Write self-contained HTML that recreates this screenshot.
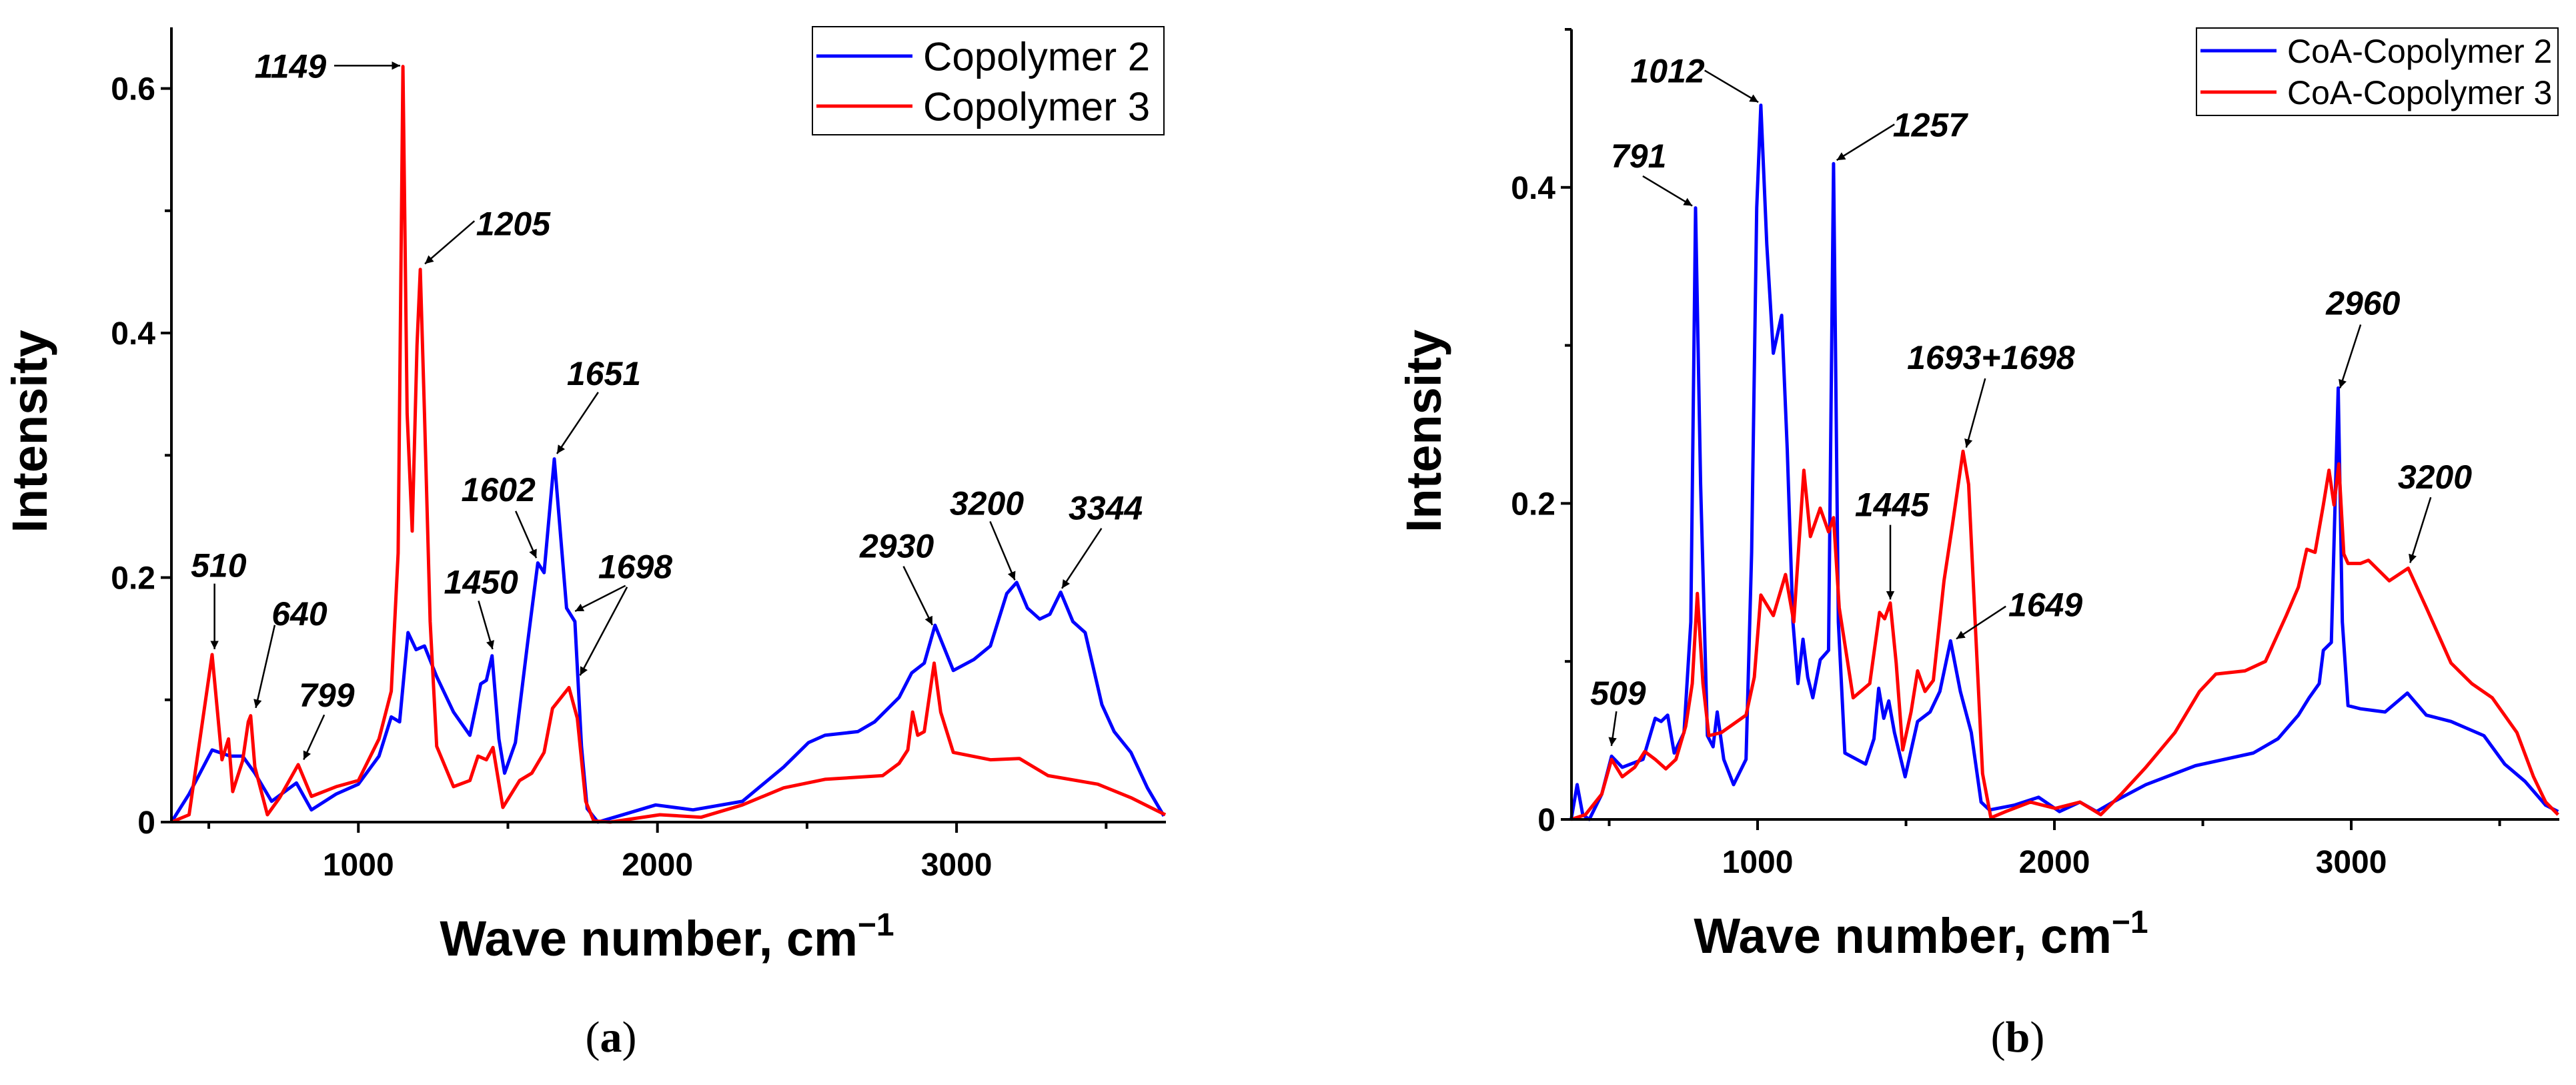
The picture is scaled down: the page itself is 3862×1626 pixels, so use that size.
<!DOCTYPE html>
<html><head><meta charset="utf-8">
<style>
html,body{margin:0;padding:0;background:#fff;}
svg{display:block;font-family:"Liberation Sans",Arial,sans-serif;}
</style></head>
<body>
<svg id="fig" width="3862" height="1626" viewBox="0 0 3862 1626" xmlns="http://www.w3.org/2000/svg">
<defs>
<marker id="ah" viewBox="0 0 10 10" refX="10" refY="5" markerWidth="5" markerHeight="5" orient="auto-start-reverse">
<path d="M0,0 L10,5 L0,10 z" fill="#000"/>
</marker>
</defs>
</svg>
<script>
// ---- Panel (a) data ----
const aCop3X = [375,434,511,544,566,580,613,632,640,654,696,737,799,843,926,1000,1069,1110,1133,1149,1163,1180,1196,1207,1221,1240,1262,1318,1373,1400,1428,1450,1483,1511,1539,1580,1621,1649,1704,1732,1760,1787,1842,2008,2146,2284,2422,2560,2753,2808,2837,2853,2870,2892,2925,2947,2989,3113,3210,3306,3472,3583,3665,3698];
const aCop3Y = [0,0.006,0.137,0.051,0.068,0.025,0.05,0.082,0.087,0.045,0.006,0.02,0.047,0.021,0.029,0.034,0.068,0.107,0.22,0.618,0.334,0.238,0.39,0.452,0.334,0.164,0.062,0.029,0.034,0.054,0.051,0.061,0.012,0.023,0.034,0.04,0.057,0.093,0.11,0.085,0.017,0.001,0,0.006,0.004,0.014,0.028,0.035,0.038,0.048,0.059,0.09,0.071,0.074,0.13,0.09,0.057,0.051,0.052,0.038,0.031,0.02,0.01,0.006];
const aCop2X = [375,434,511,572,613,654,710,793,843,926,1000,1069,1110,1138,1166,1193,1221,1262,1318,1373,1409,1428,1447,1470,1489,1525,1566,1600,1621,1655,1677,1696,1724,1746,1765,1801,1898,1994,2119,2284,2422,2505,2560,2670,2726,2808,2850,2892,2928,2961,2989,3058,3113,3168,3201,3237,3278,3312,3348,3389,3430,3486,3527,3583,3638,3693];
const aCop2Y = [0,0.023,0.059,0.054,0.054,0.04,0.017,0.032,0.01,0.023,0.031,0.054,0.086,0.082,0.155,0.141,0.144,0.119,0.09,0.071,0.113,0.116,0.136,0.068,0.04,0.065,0.147,0.212,0.204,0.297,0.232,0.175,0.164,0.062,0.011,0,0.007,0.014,0.01,0.017,0.045,0.065,0.071,0.074,0.082,0.102,0.122,0.13,0.161,0.141,0.124,0.133,0.144,0.187,0.196,0.175,0.166,0.17,0.188,0.164,0.155,0.096,0.074,0.057,0.028,0.005];
const aYTicks = [0,0.2,0.4,0.6];
const aYTickLabels = ["0","0.2","0.4","0.6"];
const xTicks = [1000,2000,3000];
const xTickLabels = ["1000","2000","3000"];

// ---- Panel (b) data ----
const bCoa2X = [372,392,411,433,475,508,544,614,655,675,697,719,752,775,791,808,831,850,864,886,919,961,980,997,1011,1031,1053,1081,1100,1119,1136,1153,1169,1186,1211,1239,1256,1272,1294,1364,1392,1408,1425,1442,1461,1497,1539,1581,1614,1650,1683,1720,1753,1781,1864,1947,2017,2086,2142,2197,2308,2475,2670,2753,2822,2858,2892,2906,2933,2956,2970,2989,3031,3114,3189,3253,3336,3447,3517,3586,3655,3697];
const bCoa2Y = [0,0.022,0.003,0,0.016,0.04,0.033,0.038,0.064,0.062,0.066,0.042,0.055,0.125,0.387,0.212,0.053,0.046,0.068,0.038,0.022,0.038,0.169,0.387,0.452,0.364,0.295,0.319,0.234,0.125,0.086,0.114,0.09,0.077,0.101,0.107,0.415,0.125,0.042,0.035,0.051,0.083,0.064,0.075,0.055,0.027,0.062,0.068,0.081,0.113,0.081,0.055,0.011,0.006,0.009,0.014,0.005,0.011,0.005,0.011,0.022,0.034,0.042,0.051,0.066,0.077,0.086,0.107,0.112,0.273,0.125,0.072,0.07,0.068,0.08,0.066,0.062,0.053,0.035,0.024,0.009,0.005];
const bCoa3X = [372,420,475,508,544,586,620,655,691,725,758,780,797,816,836,878,961,989,1011,1053,1094,1122,1156,1178,1211,1239,1256,1275,1322,1378,1411,1428,1447,1467,1489,1517,1539,1564,1592,1628,1656,1692,1711,1733,1758,1786,1836,1919,2003,2086,2156,2225,2308,2406,2489,2544,2642,2711,2781,2822,2850,2878,2906,2925,2942,2958,2975,2989,3031,3058,3128,3192,3253,3336,3406,3475,3558,3614,3655,3697];
const bCoa3Y = [0,0.003,0.016,0.038,0.027,0.033,0.043,0.038,0.032,0.038,0.059,0.086,0.143,0.086,0.053,0.055,0.066,0.09,0.142,0.129,0.155,0.125,0.221,0.179,0.197,0.182,0.191,0.134,0.077,0.086,0.131,0.127,0.137,0.099,0.044,0.068,0.094,0.081,0.088,0.151,0.186,0.233,0.212,0.125,0.029,0.001,0.005,0.011,0.007,0.011,0.003,0.016,0.033,0.055,0.081,0.092,0.094,0.1,0.129,0.147,0.171,0.169,0.199,0.221,0.199,0.225,0.168,0.162,0.162,0.164,0.151,0.159,0.134,0.099,0.086,0.077,0.055,0.027,0.011,0.003];
const bYTicks = [0,0.2,0.4];
const bYTickLabels = ["0","0.2","0.4"];

const NS = "http://www.w3.org/2000/svg";
const svg = document.getElementById("fig");
function mk(tag, attrs, parent){
  const e = document.createElementNS(NS, tag);
  for (const k in attrs) e.setAttribute(k, attrs[k]);
  (parent||svg).appendChild(e);
  return e;
}

function panel(cfg){
  const g = mk("g", {});
  
  
  const sx = v => cfg.x0 + (v - cfg.xmin) / (cfg.xmax - cfg.xmin) * (cfg.x1 - cfg.x0);
  const sy = v => cfg.y0 - (v - cfg.ymin) / (cfg.ymax - cfg.ymin) * (cfg.y0 - cfg.y1);
  cfg.series.forEach(s => {
    let d = "";
    s.xs.forEach((xv, i) => { d += (i ? "L" : "M") + sx(xv).toFixed(1) + "," + sy(s.ys[i]).toFixed(1); });
    const p = mk("path", {d: d, fill: "none", stroke: s.color, "stroke-width": 5, "stroke-linejoin": "round"}, g);
    
    
  });
  const ya = mk("line", {x1: cfg.x0, y1: cfg.y1, x2: cfg.x0, y2: cfg.y0 + 2, stroke: "#000", "stroke-width": 4}, g);
  
  
  const xa = mk("line", {x1: cfg.x0 - 2, y1: cfg.y0, x2: cfg.x1, y2: cfg.y0, stroke: "#000", "stroke-width": 4}, g);
  
  
  for (let v = 500; v <= 3500; v += 500) {
    const major = v % 1000 === 0;
    const t = mk("line", {x1: sx(v), y1: cfg.y0, x2: sx(v), y2: cfg.y0 + (major ? 16 : 10), stroke: "#000", "stroke-width": 4}, g);
    
    
  }
  xTicks.forEach((v, i) => {
    const t = mk("text", {x: sx(v), y: cfg.y0 + 80, "text-anchor": "middle", "font-size": 48, "font-weight": "bold"}, g);
    t.textContent = xTickLabels[i];
    
    
  });
  for (let v = 0; v <= cfg.ymax + 1e-9; v += 0.1) {
    const major = Math.round(v * 10) % 2 === 0;
    const t = mk("line", {x1: cfg.x0, y1: sy(v), x2: cfg.x0 - (major ? 16 : 10), y2: sy(v), stroke: "#000", "stroke-width": 4}, g);
    
    
  }
  cfg.yTicks.forEach((v, i) => {
    const t = mk("text", {x: cfg.x0 - 24, y: sy(v) + 17, "text-anchor": "end", "font-size": 48, "font-weight": "bold"}, g);
    t.textContent = cfg.yTickLabels[i];
    
    
  });
  const yt = mk("text", {x: 0, y: 0, transform: "translate(" + cfg.yTitleX + "," + ((cfg.y0 + cfg.y1) / 2 + 10) + ") rotate(-90)", "text-anchor": "middle", "font-size": 74, "font-weight": "bold"}, g);
  yt.textContent = "Intensity";
  
  
  const xt = mk("text", {x: cfg.xTitleX, y: cfg.y0 + 200, "text-anchor": "middle", "font-size": 74, "font-weight": "bold"}, g);
  xt.innerHTML = 'Wave number, cm<tspan dy="-30" font-size="48">−1</tspan>';
  
  
  const pl = mk("text", {x: cfg.labelX, y: 1576, "text-anchor": "middle", "font-size": 66, "font-family": "Liberation Serif, serif"}, g);
  pl.innerHTML = '(<tspan font-weight="bold">' + cfg.label + '</tspan>)';
  
  
  const L = cfg.legend;
  const lb = mk("rect", {x: L.x, y: L.y, width: L.w, height: L.h, fill: "#fff", stroke: "#000", "stroke-width": 2}, g);
  
  
  cfg.series.forEach((s, i) => {
    const yy = L.y + L.rows[i];
    const ll = mk("line", {x1: L.x + 6, y1: yy, x2: L.x + L.lineW, y2: yy, stroke: s.color, "stroke-width": 5}, g);
    
    
    const lt = mk("text", {x: L.x + L.lineW + 16, y: yy + L.fs * 0.36, "font-size": L.fs}, g);
    lt.textContent = s.label;
    
    
  });
  cfg.ann.forEach(a => {
    const t = mk("text", {x: a[1], y: a[2] + 18, "text-anchor": "middle", "font-size": 50, "font-weight": "bold", "font-style": "italic"}, g);
    t.textContent = a[0];
    
    
    for (let k = 3; k + 3 < a.length; k += 4) {
      const ar = mk("line", {x1: a[k], y1: a[k+1], x2: a[k+2], y2: a[k+3], stroke: "#000", "stroke-width": 2.5, "marker-end": "url(#ah)"}, g);
      
      
    }
  });
}

const FX = 1.237, FY = 1.035;
function conv(list, off){
  return list.map(a => { const r = [a[0]]; for (let i = 1; i < a.length; i++) r.push(i % 2 ? a[i] * FX + off : a[i] * FY); return r; });
}

panel({
  name: "panel-a", label: "a", labelX: 916,
  x0: 257, x1: 1748, xmin: 375, xmax: 3700,
  y0: 1232, y1: 41, ymin: 0, ymax: 0.65,
  yTicks: aYTicks, yTickLabels: aYTickLabels,
  yTitleX: 70, xTitleX: 1000,
  series: [
    {id: "copolymer-2-line", label: "Copolymer 2", color: "#0000ff", xs: aCop2X, ys: aCop2Y},
    {id: "copolymer-3-line", label: "Copolymer 3", color: "#ff0000", xs: aCop3X, ys: aCop3Y}
  ],
  legend: {x: 1218, y: 40, w: 527, h: 162, rows: [44, 119], lineW: 150, fs: 60},
  ann: conv([
    ["1149",352,95, 405,95,485,95],
    ["1205",622,323, 575,320,515,382],
    ["510",265,818, 260,845,260,940],
    ["640",363,888, 333,905,310,1025],
    ["799",396,1006, 393,1035,368,1100],
    ["1450",583,842, 580,870,597,940],
    ["1602",604,708, 625,740,650,808],
    ["1651",732,540, 725,568,675,657],
    ["1698",770,820, 758,848,697,885, 760,850,703,978],
    ["2930",1087,790, 1095,820,1130,905],
    ["3200",1196,728, 1200,755,1230,840],
    ["3344",1340,735, 1335,765,1287,852]
  ], 0)
});

panel({
  name: "panel-b", label: "b", labelX: 3025,
  x0: 2356, x1: 3837, xmin: 373, xmax: 3701,
  y0: 1228, y1: 44, ymin: 0, ymax: 0.5,
  yTicks: bYTicks, yTickLabels: bYTickLabels,
  yTitleX: 2160, xTitleX: 2880,
  series: [
    {id: "coa-copolymer-2-line", label: "CoA-Copolymer 2", color: "#0000ff", xs: bCoa2X, ys: bCoa2Y},
    {id: "coa-copolymer-3-line", label: "CoA-Copolymer 3", color: "#ff0000", xs: bCoa3X, ys: bCoa3Y}
  ],
  legend: {x: 3293, y: 42, w: 542, h: 131, rows: [34, 96], lineW: 120, fs: 50},
  ann: conv([
    ["1012",460,102, 505,102,570,148],
    ["791",425,225, 430,255,490,298],
    ["1257",778,180, 735,180,665,232],
    ["509",400,1003, 398,1030,392,1080],
    ["1445",732,730, 730,760,730,868],
    ["1693+1698",852,517, 845,548,822,648],
    ["1649",918,875, 870,878,810,925],
    ["2960",1303,438, 1300,470,1275,562],
    ["3200",1390,690, 1385,720,1360,815]
  ], 1931)
});
</script>
</body></html>
